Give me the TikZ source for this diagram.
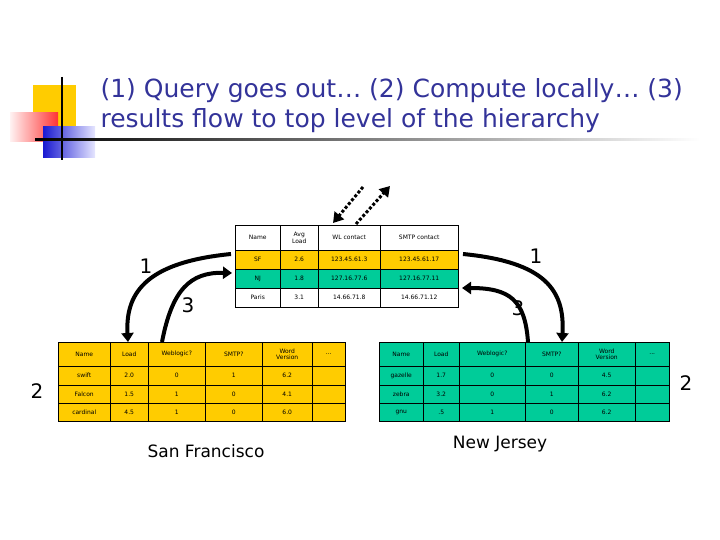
\documentclass[tikz,border=0pt]{standalone}
\usepackage{fontspec}
\setmainfont{DejaVu Sans}
\usetikzlibrary{arrows.meta}
\definecolor{sfy}{HTML}{FFCC00}
\definecolor{njg}{HTML}{00CC99}
\definecolor{navy}{HTML}{333399}
\tikzset{
  cell/.style={draw=black,line width=0.5pt,inner sep=0pt,anchor=north west,font=\fontsize{6}{6.5}\selectfont,align=center},
  bigarrow/.style={line width=4pt,-{Triangle[length=9pt,width=12pt]}},
  dotarrow/.style={line width=3pt,dash pattern=on 3pt off 2pt,-{Triangle[length=10pt,width=12pt]}},
  lbl/.style={font=\fontsize{20}{22}\selectfont},
  city/.style={font=\fontsize{17}{19}\selectfont}
}
\newcommand{\tcell}[7]{\node[cell,fill=#6,minimum width=#4pt-#2pt,minimum height=#5pt-#3pt] (#1) at (#2,#3) {#7};}
\newcommand{\dotsc}{...}
\begin{document}
\begin{tikzpicture}[x=1pt,y=-1pt]
\useasboundingbox (0,0) rectangle (720,540);
\fill[sfy] (33,85) rectangle (76,127);
\shade[left color=red!5,right color=red!80] (10,113) rectangle (58,142);
\shade[left color=blue!80!black!90,right color=blue!10] (43,127) rectangle (95,158);
\draw[line width=1.5pt] (62,77) -- (62,160);
\shade[left color=black,right color=white] (35,139) rectangle (700,141);
\node[anchor=west,text=navy,font=\fontsize{25}{30}\selectfont,align=left] (title) at (97,106) {(1) Query goes out… (2) Compute locally… (3)\\results flow to top level of the hierarchy};
\foreach \n/\xa/\xb/\t in {a/235/280/Name,b/280/318/{Avg\\Load},c/318/380/WL contact,d/380/458/SMTP contact}{
  \tcell{h\n}{\xa}{225}{\xb}{250}{white}{\t}}
\foreach \n/\xa/\xb/\t in {a/235/280/SF,b/280/318/2.6,c/318/380/123.45.61.3,d/380/458/123.45.61.17}{
  \tcell{sf\n}{\xa}{250}{\xb}{269}{sfy}{\t}}
\foreach \n/\xa/\xb/\t in {a/235/280/NJ,b/280/318/1.8,c/318/380/127.16.77.6,d/380/458/127.16.77.11}{
  \tcell{nj\n}{\xa}{269}{\xb}{288}{njg}{\t}}
\foreach \n/\xa/\xb/\t in {a/235/280/Paris,b/280/318/3.1,c/318/380/14.66.71.8,d/380/458/14.66.71.12}{
  \tcell{pa\n}{\xa}{288}{\xb}{307}{white}{\t}}
\foreach \n/\xa/\xb/\t in {a/58/110/Name,b/110/148/Load,c/148/205/Weblogic?,d/205/262/SMTP?,e/262/312/{Word\\Version},f/312/345/\dotsc}{
  \tcell{lh\n}{\xa}{342}{\xb}{366}{sfy}{\t}}
\foreach \r/\ya/\yb/\va/\vb/\vc/\vd/\ve in {1/366/385/swift/2.0/0/1/6.2,2/385/403/Falcon/1.5/1/0/4.1,3/403/421/cardinal/4.5/1/0/6.0}{
  \tcell{l\r a}{58}{\ya}{110}{\yb}{sfy}{\va}
  \tcell{l\r b}{110}{\ya}{148}{\yb}{sfy}{\vb}
  \tcell{l\r c}{148}{\ya}{205}{\yb}{sfy}{\vc}
  \tcell{l\r d}{205}{\ya}{262}{\yb}{sfy}{\vd}
  \tcell{l\r e}{262}{\ya}{312}{\yb}{sfy}{\ve}
  \tcell{l\r f}{312}{\ya}{345}{\yb}{sfy}{}}
\foreach \n/\xa/\xb/\t in {a/379/423/Name,b/423/459/Load,c/459/525/Weblogic?,d/525/578/SMTP?,e/578/635/{Word\\Version},f/635/669/\dotsc}{
  \tcell{rh\n}{\xa}{342}{\xb}{366}{njg}{\t}}
\foreach \r/\ya/\yb/\va/\vb/\vc/\vd/\ve in {1/366/385/gazelle/1.7/0/0/4.5,2/385/403/zebra/3.2/0/1/6.2,3/403/421/gnu/.5/1/0/6.2}{
  \tcell{r\r a}{379}{\ya}{423}{\yb}{njg}{\va}
  \tcell{r\r b}{423}{\ya}{459}{\yb}{njg}{\vb}
  \tcell{r\r c}{459}{\ya}{525}{\yb}{njg}{\vc}
  \tcell{r\r d}{525}{\ya}{578}{\yb}{njg}{\vd}
  \tcell{r\r e}{578}{\ya}{635}{\yb}{njg}{\ve}
  \tcell{r\r f}{635}{\ya}{669}{\yb}{njg}{}}
\coordinate (L1s) at (231,254);
\coordinate (L1e) at (128,342);
\coordinate (L3s) at (162,342);
\coordinate (L3e) at (232,273);
\coordinate (R1s) at (463,254);
\coordinate (R1e) at (562,342);
\coordinate (R3s) at (528,342);
\coordinate (R3e) at (462,288);
\draw[bigarrow] (L1s) .. controls (150,262) and (125,290) .. (L1e);
\draw[bigarrow] (L3s) .. controls (172,290) and (190,272) .. (L3e);
\draw[bigarrow] (R1s) .. controls (545,262) and (565,290) .. (R1e);
\draw[bigarrow] (R3s) .. controls (525,300) and (510,288) .. (R3e);
\coordinate (D1s) at (363,187);
\coordinate (D1e) at (333,223);
\coordinate (D2s) at (356,224);
\coordinate (D2e) at (390,186);
\draw[dotarrow] (D1s) -- (D1e);
\draw[dotarrow] (D2s) -- (D2e);
\node[lbl] (n1l) at (146,266) {1};
\node[lbl] (n3l) at (188,305) {3};
\node[lbl] (n2l) at (37,391) {2};
\node[lbl] (n1r) at (536,256) {1};
\node[lbl] (n3r) at (518,308) {3};
\node[lbl] (n2r) at (686,383) {2};
\node[city] (sf) at (206,451) {San Francisco};
\node[city] (nj) at (500,444) {New Jersey};
\end{tikzpicture}
\end{document}
